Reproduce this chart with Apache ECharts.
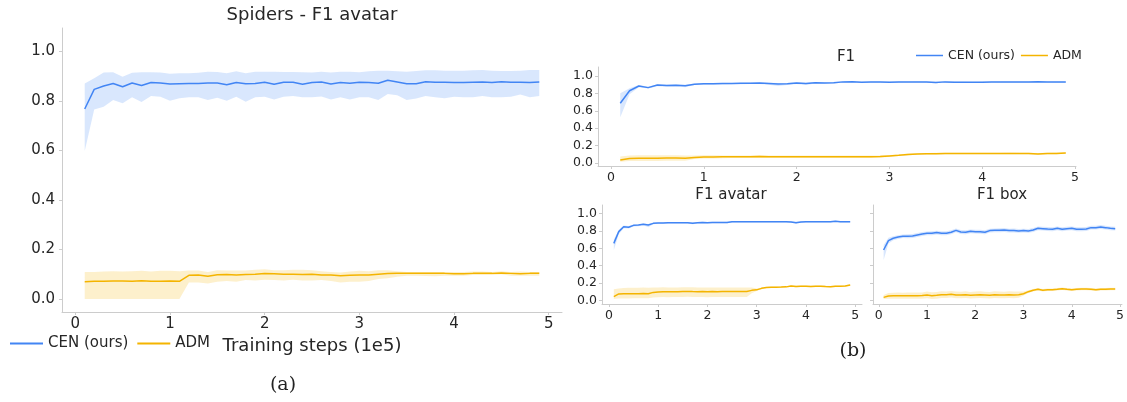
<!DOCTYPE html>
<html>
<head>
<meta charset="utf-8">
<script src="https://cdn.jsdelivr.net/npm/echarts@6/dist/echarts.min.js"></script>
<style>html,body{margin:0;padding:0;background:#fff;}#c{width:1127px;height:402px;}</style>
</head>
<body>
<div id="c"></div>
<script>
// Training steps (1e5)
var steps = [0.1,0.2,0.3,0.4,0.5,0.6,0.7,0.8,0.9,1.0,1.1,1.2,1.3,1.4,1.5,1.6,1.7,1.8,1.9,2.0,2.1,2.2,2.3,2.4,2.5,2.6,2.7,2.8,2.9,3.0,3.1,3.2,3.3,3.4,3.5,3.6,3.7,3.8,3.9,4.0,4.1,4.2,4.3,4.4,4.5,4.6,4.7,4.8,4.9];
var yTicks = [0, 0.2, 0.4, 0.6, 0.8, 1.0];
var xTicks = [0, 1, 2, 3, 4, 5];

// (a) Spiders - F1 avatar
var spCenMean = [.768,.847,.861,.871,.858,.873,.863,.875,.873,.869,.870,.871,.871,.873,.873,.866,.875,.870,.871,.876,.868,.876,.876,.868,.875,.877,.869,.875,.872,.876,.875,.872,.884,.877,.870,.870,.878,.876,.876,.875,.875,.876,.877,.875,.878,.876,.876,.875,.877];
var spCenUp = [.871,.892,.915,.916,.898,.914,.916,.916,.915,.910,.912,.912,.914,.918,.917,.912,.920,.912,.918,.918,.918,.917,.917,.916,.915,.918,.915,.918,.918,.916,.920,.922,.922,.920,.918,.921,.924,.924,.922,.922,.922,.924,.925,.922,.921,.921,.922,.925,.925];
var spCenLo = [.598,.766,.777,.804,.791,.815,.796,.820,.817,.801,.811,.815,.815,.804,.813,.801,.817,.797,.815,.817,.806,.817,.820,.815,.815,.818,.806,.815,.806,.815,.815,.804,.828,.823,.804,.810,.820,.815,.811,.817,.815,.815,.820,.815,.815,.817,.826,.815,.820];
var spAdmMean = [.070,.072,.072,.073,.073,.072,.074,.072,.072,.073,.072,.096,.097,.092,.098,.099,.097,.099,.100,.103,.102,.100,.100,.099,.100,.097,.097,.094,.096,.097,.097,.100,.103,.104,.105,.105,.104,.104,.104,.102,.102,.104,.105,.104,.106,.104,.102,.104,.104];
var spAdmUp = [.110,.110,.112,.113,.112,.113,.115,.112,.115,.115,.113,.116,.116,.110,.117,.116,.116,.116,.119,.121,.117,.117,.119,.119,.117,.113,.110,.108,.112,.115,.113,.117,.117,.113,.110,.110,.110,.110,.110,.110,.110,.112,.112,.110,.113,.110,.112,.110,.110];
var spAdmLo = [0,0,0,0,0,0,0,0,0,0,0,.067,.067,.063,.070,.073,.070,.077,.075,.078,.077,.075,.078,.075,.075,.077,.073,.067,.070,.070,.073,.081,.084,.090,.094,.094,.093,.092,.094,.094,.094,.097,.097,.097,.100,.094,.094,.094,.094];

// (b) F1
var f1CenMean = [.686,.830,.885,.866,.895,.890,.893,.888,.905,.910,.910,.912,.913,.915,.917,.918,.914,.908,.911,.920,.912,.922,.920,.921,.932,.933,.927,.930,.930,.929,.930,.931,.932,.930,.925,.932,.928,.929,.927,.929,.931,.930,.930,.930,.930,.934,.931,.930,.930];
var f1CenUp = [.800,.860,.895,.875,.905,.900,.902,.898,.912,.918,.918,.920,.920,.922,.924,.925,.922,.918,.920,.928,.920,.930,.928,.928,.938,.938,.934,.936,.936,.935,.936,.937,.938,.936,.933,.938,.935,.935,.934,.935,.937,.936,.936,.936,.936,.940,.937,.936,.936];
var f1CenLo = [.525,.790,.870,.855,.882,.875,.878,.870,.895,.900,.900,.902,.904,.906,.908,.908,.898,.885,.895,.908,.895,.912,.910,.912,.925,.926,.918,.923,.922,.922,.923,.924,.925,.922,.915,.924,.920,.921,.918,.921,.924,.922,.923,.923,.923,.927,.924,.923,.923];
var f1AdmMean = [.034,.052,.055,.055,.055,.056,.056,.055,.064,.068,.068,.070,.071,.071,.072,.073,.072,.071,.071,.072,.071,.071,.071,.072,.072,.072,.072,.072,.074,.081,.088,.098,.103,.106,.107,.108,.108,.108,.109,.109,.109,.108,.110,.109,.108,.104,.109,.110,.115];
var f1AdmUp = [.075,.085,.088,.088,.088,.088,.088,.086,.085,.088,.088,.085,.086,.086,.087,.088,.087,.086,.086,.086,.085,.085,.085,.086,.086,.086,.085,.085,.087,.092,.097,.108,.112,.115,.116,.117,.117,.117,.118,.118,.118,.117,.119,.118,.117,.114,.118,.119,.122];
var f1AdmLo = [.015,.022,.022,.022,.022,.024,.024,.025,.045,.050,.052,.055,.056,.057,.058,.059,.058,.057,.056,.058,.057,.057,.057,.058,.058,.058,.058,.058,.060,.070,.080,.088,.094,.097,.098,.099,.099,.099,.100,.100,.100,.099,.101,.100,.099,.095,.100,.101,.108];

// (b) F1 avatar
var avCenMean = [.656,.790,.847,.840,.862,.865,.874,.866,.885,.889,.889,.892,.892,.893,.893,.893,.886,.893,.896,.892,.896,.896,.896,.896,.904,.904,.904,.904,.903,.904,.903,.904,.904,.904,.902,.904,.900,.893,.900,.903,.904,.904,.903,.904,.904,.910,.904,.904,.904];
var avCenUp = [.700,.810,.860,.855,.872,.875,.883,.878,.893,.897,.897,.900,.900,.901,.901,.901,.896,.901,.904,.901,.904,.904,.904,.904,.911,.911,.911,.911,.910,.911,.910,.911,.911,.911,.909,.911,.908,.902,.908,.910,.911,.911,.910,.911,.911,.916,.911,.911,.911];
var avCenLo = [.580,.760,.830,.825,.850,.852,.862,.840,.875,.880,.880,.883,.883,.884,.884,.884,.875,.884,.887,.882,.887,.887,.887,.887,.896,.896,.896,.896,.895,.896,.895,.896,.896,.896,.894,.896,.891,.883,.891,.895,.896,.896,.895,.896,.896,.903,.896,.896,.896];
var avAdmMean = [.046,.077,.078,.079,.080,.080,.081,.080,.095,.100,.102,.101,.103,.102,.104,.106,.104,.103,.104,.102,.104,.103,.104,.104,.104,.105,.104,.105,.118,.124,.141,.152,.155,.155,.156,.158,.168,.163,.165,.165,.163,.165,.165,.162,.160,.165,.166,.168,.180];
var avAdmUp = [.130,.140,.145,.147,.148,.148,.150,.148,.150,.152,.153,.150,.152,.152,.153,.155,.153,.150,.152,.150,.152,.150,.151,.151,.151,.152,.151,.152,.150,.140,.150,.160,.163,.163,.164,.166,.175,.171,.173,.173,.171,.173,.173,.170,.168,.173,.174,.176,.188];
var avAdmLo = [.020,.025,.025,.026,.027,.027,.028,.027,.035,.040,.042,.040,.042,.041,.043,.045,.043,.042,.042,.040,.042,.041,.042,.042,.042,.043,.042,.043,.085,.110,.132,.144,.147,.147,.148,.150,.160,.155,.157,.157,.155,.157,.157,.154,.152,.157,.158,.160,.172];

// (b) F1 box
var bxCenMean = [.580,.687,.714,.729,.737,.737,.740,.752,.763,.771,.771,.779,.771,.771,.783,.805,.786,.783,.794,.790,.790,.783,.802,.805,.805,.809,.802,.802,.798,.802,.798,.809,.828,.824,.820,.817,.828,.817,.824,.828,.817,.817,.820,.836,.836,.843,.836,.828,.824];
var bxCenUp = [.637,.720,.737,.750,.758,.759,.762,.774,.785,.793,.794,.801,.794,.794,.805,.827,.808,.806,.816,.812,.813,.806,.824,.827,.828,.831,.824,.825,.820,.824,.820,.831,.850,.846,.842,.840,.850,.839,.846,.850,.840,.839,.842,.858,.858,.865,.858,.850,.846];
var bxCenLo = [.465,.655,.692,.707,.716,.715,.718,.730,.741,.749,.748,.757,.748,.749,.761,.783,.764,.760,.772,.768,.767,.761,.780,.783,.782,.787,.780,.779,.776,.780,.776,.787,.806,.802,.798,.794,.806,.795,.802,.806,.794,.795,.798,.814,.814,.821,.814,.806,.802];
var bxAdmMean = [.038,.054,.057,.057,.057,.057,.057,.057,.058,.065,.057,.061,.069,.069,.073,.065,.065,.069,.061,.065,.069,.065,.061,.069,.065,.065,.069,.065,.069,.080,.103,.120,.130,.120,.124,.124,.130,.137,.130,.124,.130,.134,.134,.130,.124,.130,.130,.134,.134];
var bxAdmUp = [.065,.088,.092,.093,.092,.093,.094,.093,.095,.104,.096,.100,.108,.106,.110,.104,.103,.108,.100,.104,.108,.103,.100,.107,.104,.103,.107,.104,.106,.105,.118,.134,.144,.134,.138,.138,.144,.151,.144,.138,.144,.148,.148,.144,.138,.144,.144,.148,.148];
var bxAdmLo = [.020,.022,.022,.022,.023,.022,.021,.022,.022,.027,.020,.023,.031,.032,.036,.028,.027,.031,.024,.027,.031,.028,.024,.031,.027,.028,.031,.028,.033,.058,.088,.106,.116,.106,.110,.110,.116,.123,.116,.110,.116,.120,.120,.116,.110,.116,.116,.120,.120];

var BLUE = '#4285f4', BLUE_BAND = 'rgba(66,133,244,0.2)';
var ORANGE = '#f4b400', ORANGE_BAND = 'rgba(244,180,0,0.2)';
var TXT = '#262626', SPINE = '#cccccc', FONT = 'DejaVu Sans';

function pairs(vals) { return steps.map(function (s, i) { return [s, vals[i]]; }); }

// shaded band: polygon through upper values then back through lower values, mapped via api.coord
function band(g, lo, up, color) {
  var data = steps.map(function (s, i) { return [s, lo[i], up[i]]; });
  return {
    type: 'custom', xAxisIndex: g, yAxisIndex: g, silent: true, z: 1,
    encode: { x: 0, y: [1, 2] },
    data: data,
    renderItem: function (params, api) {
      if (params.dataIndex !== 0) return;
      var pts = [], i;
      for (i = 0; i < data.length; i++) pts.push(api.coord([data[i][0], data[i][2]]));
      for (i = data.length - 1; i >= 0; i--) pts.push(api.coord([data[i][0], data[i][1]]));
      return { type: 'polygon', shape: { points: pts }, style: { fill: color } };
    }
  };
}
function meanLine(g, name, vals, color) {
  return { type: 'line', name: name, xAxisIndex: g, yAxisIndex: g, data: pairs(vals), showSymbol: false, symbol: 'none',
    lineStyle: { color: color, width: 1.5 }, itemStyle: { color: color }, z: 3 };
}

function xAx(g, min, max, fs, margin, extra) {
  var a = { type: 'value', gridIndex: g, min: min, max: max,
    axisLine: { show: true, onZero: false, lineStyle: { color: SPINE, width: 1 } },
    axisTick: { show: true, length: 3, customValues: xTicks, lineStyle: { color: SPINE } },
    axisLabel: { customValues: xTicks, color: TXT, fontSize: fs, fontFamily: FONT, margin: margin },
    splitLine: { show: false } };
  if (extra) Object.assign(a, extra);
  return a;
}
function yAx(g, min, max, fs, margin, showLabel) {
  return { type: 'value', gridIndex: g, min: min, max: max,
    axisLine: { show: true, onZero: false, lineStyle: { color: SPINE, width: 1 } },
    axisTick: { show: true, length: 3, customValues: yTicks, lineStyle: { color: SPINE } },
    axisLabel: { show: showLabel, customValues: yTicks, color: TXT, fontSize: fs, fontFamily: FONT, margin: margin,
      formatter: function (v) { return v.toFixed(1); } },
    splitLine: { show: false } };
}

var series = [
  band(0, spCenLo, spCenUp, BLUE_BAND), band(0, spAdmLo, spAdmUp, ORANGE_BAND),
  meanLine(0, 'CEN (ours)', spCenMean, BLUE), meanLine(0, 'ADM', spAdmMean, ORANGE),
  band(1, f1CenLo, f1CenUp, BLUE_BAND), band(1, f1AdmLo, f1AdmUp, ORANGE_BAND),
  meanLine(1, 'CEN (ours)', f1CenMean, BLUE), meanLine(1, 'ADM', f1AdmMean, ORANGE),
  band(2, avCenLo, avCenUp, BLUE_BAND), band(2, avAdmLo, avAdmUp, ORANGE_BAND),
  meanLine(2, 'CEN (ours)', avCenMean, BLUE), meanLine(2, 'ADM', avAdmMean, ORANGE),
  band(3, bxCenLo, bxCenUp, BLUE_BAND), band(3, bxAdmLo, bxAdmUp, ORANGE_BAND),
  meanLine(3, 'CEN (ours)', bxCenMean, BLUE), meanLine(3, 'ADM', bxAdmMean, ORANGE)
];

var chart = echarts.init(document.getElementById('c'), null, { renderer: 'canvas' });
chart.setOption({
  animation: false,
  backgroundColor: '#ffffff',
  title: [
    { text: 'Spiders - F1 avatar', left: 312, top: 6, textAlign: 'center', padding: 0,
      textStyle: { fontFamily: FONT, fontSize: 18, fontWeight: 'normal', color: TXT } },
    { text: 'F1', left: 846, top: 50, textAlign: 'center', padding: 0,
      textStyle: { fontFamily: FONT, fontSize: 15, fontWeight: 'normal', color: TXT } },
    { text: 'F1 avatar', left: 731, top: 188, textAlign: 'center', padding: 0,
      textStyle: { fontFamily: FONT, fontSize: 15, fontWeight: 'normal', color: TXT } },
    { text: 'F1 box', left: 1002, top: 188, textAlign: 'center', padding: 0,
      textStyle: { fontFamily: FONT, fontSize: 15, fontWeight: 'normal', color: TXT } },
    { text: '(a)', left: 283, top: 376, textAlign: 'center', padding: 0,
      textStyle: { fontFamily: 'DejaVu Serif', fontSize: 19, fontWeight: 'normal', color: '#222' } },
    { text: '(b)', left: 853, top: 342, textAlign: 'center', padding: 0,
      textStyle: { fontFamily: 'DejaVu Serif', fontSize: 19, fontWeight: 'normal', color: '#222' } }
  ],
  legend: [
    { data: ['CEN (ours)', 'ADM'], left: 10, top: 336, padding: 0, itemWidth: 33, itemHeight: 2, itemGap: 9, icon: 'rect',
      textStyle: { fontFamily: FONT, fontSize: 15, color: TXT } },
    { data: ['CEN (ours)', 'ADM'], left: 916, top: 49, padding: 0, itemWidth: 27, itemHeight: 1.5, itemGap: 6, icon: 'rect',
      textStyle: { fontFamily: FONT, fontSize: 12.5, color: TXT } }
  ],
  grid: [
    { left: 62, right: 565, top: 28, bottom: 90 },
    { left: 598, right: 51, top: 67, bottom: 236 },
    { left: 602, right: 265, top: 205, bottom: 98 },
    { left: 873, right: 0, top: 205, bottom: 98 }
  ],
  xAxis: [
    xAx(0, -0.14, 5.14, 15, 5, { name: 'Training steps (1e5)', nameLocation: 'middle', nameGap: 20,
      nameTextStyle: { fontFamily: FONT, fontSize: 18, color: TXT } }),
    xAx(1, -0.14, 5.01, 12.5, 5),
    xAx(2, -0.14, 5.14, 12.5, 5),
    xAx(3, -0.12, 5.04, 12.5, 5)
  ],
  yAxis: [
    yAx(0, -0.052, 1.095, 15, 7, true),
    yAx(1, -0.035, 1.103, 12.5, 5, true),
    yAx(2, -0.038, 1.095, 12.5, 5, true),
    yAx(3, -0.038, 1.095, 12.5, 5, false)
  ],
  series: series
});
</script>
</body>
</html>
